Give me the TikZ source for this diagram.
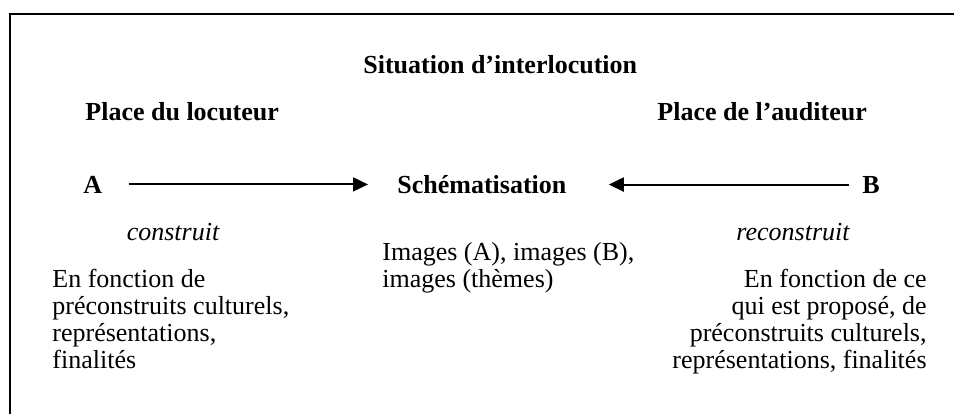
\documentclass[tikz,border=0pt]{standalone}
\usepackage{fontspec}
\setmainfont{Liberation Serif}
\usetikzlibrary{arrows.meta}
\begin{document}
\begin{tikzpicture}[x=0.5pt,y=-0.5pt,
  txt/.style={inner sep=0pt,font=\fontsize{13}{13.5}\selectfont},
  bold/.style={txt,font=\fontsize{13}{13.5}\selectfont\bfseries},
  ital/.style={txt,font=\fontsize{13}{13.5}\selectfont\itshape},
  frame/.style={line width=1pt},
  arr/.style={line width=1pt,-{Triangle[length=7.5pt,width=7pt]}}]
\useasboundingbox (0,0) rectangle (954,414);
\draw[frame] (10,414) -- (10,14) -- (954,14);
\node[bold,anchor=base west] (title) at (363,73) {Situation d’interlocution};
\node[bold,anchor=base west] (ploc) at (85,120) {Place du locuteur};
\node[bold,anchor=base west] (paud) at (657,120) {Place de l’auditeur};
\node[bold,anchor=base west] (A) at (83,193) {A};
\node[bold,anchor=base west] (S) at (397,193) {Schématisation};
\node[bold,anchor=base east] (B) at (880,193) {B};
\node[ital,anchor=base] (cons) at (173,240) {construit};
\node[ital,anchor=base] (recons) at (793,240) {reconstruit};
\node[txt,anchor=base west,align=left] (left) at (52,368) {En fonction de\\préconstruits culturels,\\représentations,\\finalités};
\node[txt,anchor=base west,align=left] (mid) at (382,287) {Images (A), images (B),\\images (thèmes)};
\node[txt,anchor=base east,align=right] (right) at (927,368) {En fonction de ce\\qui est proposé, de\\préconstruits culturels,\\représentations, finalités};
\draw[arr,shorten <=13pt,shorten >=14.5pt] (A.east) -- (A.east -| S.west);
\draw[arr,shorten <=6.5pt,shorten >=21pt] (B.west) -- (B.west -| S.east);
\end{tikzpicture}
\end{document}
